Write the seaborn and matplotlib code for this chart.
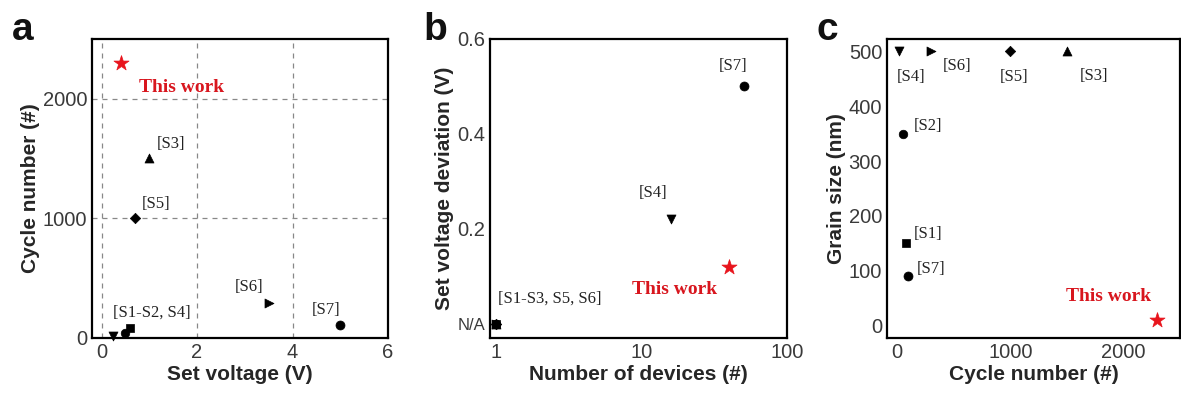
import matplotlib
matplotlib.use("Agg")
import matplotlib.pyplot as plt
import seaborn as sns
import pandas as pd
from matplotlib.ticker import MultipleLocator, FixedLocator, LogLocator, NullFormatter

sns.set_style("white")
plt.rcParams['font.family'] = ['Liberation Sans', 'DejaVu Sans']

# ---------------- data ----------------
# panel a: set voltage (V) vs cycle number
a_ref = ["S1", "S2", "S4", "S3", "S5", "S6", "S7", "This work"]
a_voltage = [0.6, 0.5, 0.25, 1.0, 0.7, 3.5, 5.0, 0.4]
a_cycles = [75, 40, 12, 1500, 1000, 290, 100, 2300]

# panel b: number of devices vs set voltage deviation (0 = N/A)
b_ref = ["S1", "S2", "S3", "S5", "S6", "S4", "S7", "This work"]
b_devices = [1, 1, 1, 1, 1, 16, 51, 40]
b_deviation = [0, 0, 0, 0, 0, 0.22, 0.5, 0.12]

# panel c: cycle number vs grain size (nm)
c_ref = ["S4", "S6", "S5", "S3", "S2", "S1", "S7", "This work"]
c_cycles = [20, 300, 1000, 1500, 55, 75, 100, 2300]
c_grain = [500, 500, 500, 500, 350, 150, 90, 10]

markers = {"S1": "s", "S2": "o", "S3": "^", "S4": "v", "S5": "D", "S6": ">", "S7": "o",
           "This work": "*"}
sizes = {"S1": 32, "S2": 38, "S3": 42, "S4": 42, "S5": 28, "S6": 42, "S7": 42, "This work": 130}
colors = {k: "black" for k in markers}
colors["This work"] = "#e8141c"

RED = "#d8161e"
SERIF = "Liberation Serif"
LBL = 15


def draw(ax, x, y, refs):
    df = pd.DataFrame({"x": x, "y": y, "ref": refs})
    for r, sub in df.groupby("ref", sort=False):
        sns.scatterplot(data=sub, x="x", y="y", marker=markers[r], s=sizes[r],
                        color=colors[r], edgecolor=colors[r], linewidth=0.5,
                        ax=ax, legend=False, zorder=5, clip_on=False)


def style(ax):
    for s in ax.spines.values():
        s.set_linewidth(1.6)
        s.set_color("black")
    ax.tick_params(which="both", direction="in", colors="black", labelcolor="#3a3a3a",
                   labelsize=14.5, width=1.2)
    ax.tick_params(which="major", length=4)
    ax.tick_params(which="minor", length=3)


fig = plt.figure(figsize=(11.81, 3.94), dpi=100)
H = 394.0
W = 1181.0
bot = (H - 338) / H
hgt = 299 / H
axa = fig.add_axes([92 / W, bot, 296 / W, hgt])
axb = fig.add_axes([490 / W, bot, 297 / W, hgt])
axc = fig.add_axes([887 / W, bot, 293 / W, hgt])

# ---------- panel a ----------
ax = axa
for xv in [0, 2, 4]:
    ax.axvline(xv, color="#888888", ls=(0, (4, 4)), lw=0.9, zorder=1)
for yv in [1000, 2000]:
    ax.axhline(yv, color="#888888", ls=(0, (4, 4)), lw=0.9, zorder=1)
draw(ax, a_voltage, a_cycles, a_ref)
ax.set_xlim(-0.2, 6)
ax.set_ylim(-5, 2500)
ax.xaxis.set_major_locator(MultipleLocator(2))
ax.xaxis.set_minor_locator(MultipleLocator(1))
ax.yaxis.set_major_locator(MultipleLocator(1000))
ax.yaxis.set_minor_locator(MultipleLocator(500))
style(ax)
ax.set_xlabel("Set voltage (V)", fontsize=LBL, fontweight="bold", labelpad=2)
ax.set_ylabel("Cycle number (#)", fontsize=LBL, fontweight="bold", labelpad=2)
ax.text(0.78, 2060, "This work", color=RED, fontsize=14, fontweight="bold", family=SERIF)
ax.text(1.15, 1590, "[S3]", fontsize=12, family=SERIF, color="#222222")
ax.text(0.85, 1080, "[S5]", fontsize=12, family=SERIF, color="#222222")
ax.text(2.8, 390, "[S6]", fontsize=12, family=SERIF, color="#222222")
ax.text(4.4, 200, "[S7]", fontsize=12, family=SERIF, color="#222222")
ax.text(0.25, 170, "[S1-S2, S4]", fontsize=12, family=SERIF, color="#222222")

# ---------- panel b ----------
ax = axb
draw(ax, b_devices, b_deviation, b_ref)
ax.set_xscale("log")
ax.set_xlim(0.91, 100)
ax.set_ylim(-0.03, 0.6)
ax.xaxis.set_major_locator(FixedLocator([1, 10, 100]))
ax.set_xticklabels(["1", "10", "100"])
ax.xaxis.set_minor_locator(LogLocator(base=10, subs=range(2, 10)))
ax.xaxis.set_minor_formatter(NullFormatter())
ax.yaxis.set_major_locator(FixedLocator([0, 0.2, 0.4, 0.6]))
ax.set_yticklabels(["N/A", "0.2", "0.4", "0.6"])
ax.yaxis.set_minor_locator(FixedLocator([0.1, 0.3, 0.5]))
style(ax)
ax.get_yticklabels()[0].set_fontsize(12)
ax.set_xlabel("Number of devices (#)", fontsize=LBL, fontweight="bold", labelpad=2)
ax.set_ylabel("Set voltage deviation (V)", fontsize=LBL, fontweight="bold", labelpad=2)
ax.text(8.6, 0.062, "This work", color=RED, fontsize=14, fontweight="bold", family=SERIF)
ax.text(34, 0.535, "[S7]", fontsize=12, family=SERIF, color="#222222")
ax.text(9.6, 0.268, "[S4]", fontsize=12, family=SERIF, color="#222222")
ax.text(1.03, 0.045, "[S1-S3, S5, S6]", fontsize=12, family=SERIF, color="#222222")

# ---------- panel c ----------
ax = axc
draw(ax, c_cycles, c_grain, c_ref)
ax.set_xlim(-90, 2500)
ax.set_ylim(-22, 522)
ax.xaxis.set_major_locator(MultipleLocator(1000))
ax.xaxis.set_minor_locator(MultipleLocator(500))
ax.yaxis.set_major_locator(MultipleLocator(100))
ax.yaxis.set_minor_locator(MultipleLocator(50))
style(ax)
ax.set_xlabel("Cycle number (#)", fontsize=LBL, fontweight="bold", labelpad=2)
ax.set_ylabel("Grain size (nm)", fontsize=LBL, fontweight="bold", labelpad=2)
ax.text(1490, 45, "This work", color=RED, fontsize=14, fontweight="bold", family=SERIF)
ax.text(0, 445, "[S4]", fontsize=12, family=SERIF, color="#222222")
ax.text(400, 465, "[S6]", fontsize=12, family=SERIF, color="#222222")
ax.text(910, 445, "[S5]", fontsize=12, family=SERIF, color="#222222")
ax.text(1610, 447, "[S3]", fontsize=12, family=SERIF, color="#222222")
ax.text(150, 357, "[S2]", fontsize=12, family=SERIF, color="#222222")
ax.text(150, 160, "[S1]", fontsize=12, family=SERIF, color="#222222")
ax.text(170, 97, "[S7]", fontsize=12, family=SERIF, color="#222222")

# panel letters
fig.text(12 / W, 1 - 40 / H, "a", fontsize=28, fontweight="bold", color="#111111")
fig.text(423 / W, 1 - 40 / H, "b", fontsize=28, fontweight="bold", color="#111111")
fig.text(817 / W, 1 - 40 / H, "c", fontsize=28, fontweight="bold", color="#111111")

fig.savefig("out.png", dpi=100)
